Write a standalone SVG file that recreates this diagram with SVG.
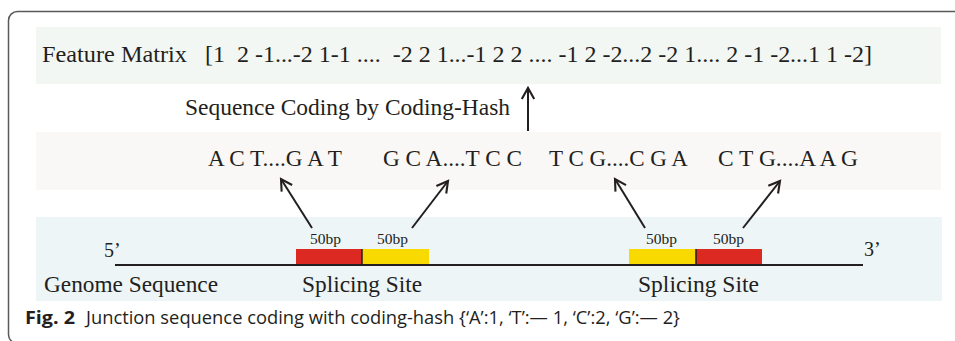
<svg xmlns="http://www.w3.org/2000/svg" width="955" height="341" viewBox="0 0 955 341">
<style>
.serif{font-family:"Liberation Serif","Times New Roman",serif;fill:#231f20}
.big{font-size:23.4px}
.small{font-size:14px}
.cap{font-family:"Open Sans","Noto Sans","Liberation Sans",sans-serif;fill:#231f20;font-size:17.5px}
.ln{stroke:#231f20;stroke-width:2;fill:none}
</style>
<defs>
<marker id="ah" markerUnits="userSpaceOnUse" markerWidth="18" markerHeight="18" refX="12" refY="8" orient="auto">
<path d="M1,1.8 L12,8 L1,14.2" fill="none" stroke="#231f20" stroke-width="2.1"/>
</marker>
</defs>
<rect x="0" y="0" width="955" height="341" fill="#ffffff"/>
<rect x="8.5" y="11.5" width="1000" height="332" rx="9" fill="none" stroke="#5a5a5a" stroke-width="1.5"/>
<g id="feature-matrix">
<rect x="36" y="27" width="905" height="57" fill="#f3f7f3"/>
<text class="serif big" x="42" y="62" textLength="145" lengthAdjust="spacingAndGlyphs">Feature Matrix</text>
<text class="serif big" x="205" y="62" xml:space="preserve" textLength="667" lengthAdjust="spacingAndGlyphs">[1  2 -1...-2 1-1 ....  -2 2 1...-1 2 2 .... -1 2 -2...2 -2 1.... 2 -1 -2...1 1 -2]</text>
</g>
<g id="coding-label">
<text class="serif big" x="185" y="115" textLength="325" lengthAdjust="spacingAndGlyphs">Sequence Coding by Coding-Hash</text>
</g>
<g id="sequences">
<rect x="36" y="132" width="905" height="58" fill="#faf8f6"/>
<text class="serif big" x="208" y="165.5" textLength="134" lengthAdjust="spacingAndGlyphs">A C T....G A T</text>
<text class="serif big" x="383" y="165.5" textLength="139" lengthAdjust="spacingAndGlyphs">G C A....T C C</text>
<text class="serif big" x="549" y="165.5" textLength="139" lengthAdjust="spacingAndGlyphs">T C G....C G A</text>
<text class="serif big" x="718" y="165.5" textLength="140" lengthAdjust="spacingAndGlyphs">C T G....A A G</text>
</g>
<g id="genome">
<rect x="36" y="217" width="906" height="84" fill="#eef5f7"/>
<line x1="115" y1="265" x2="863" y2="265" stroke="#231f20" stroke-width="2.2"/>
<text class="serif" style="font-size:20px" x="104" y="257">5’</text>
<text class="serif" style="font-size:20px" x="864" y="256">3’</text>
<text class="serif big" x="44" y="292" textLength="174" lengthAdjust="spacingAndGlyphs">Genome Sequence</text>
</g>
<g id="splice-site-1">
<rect x="296" y="249" width="66" height="15" fill="#dc2922"/>
<rect x="362" y="249" width="67" height="15" fill="#f8d900"/>
<line x1="362" y1="249" x2="362" y2="265" stroke="#231f20" stroke-width="1.5"/>
<text class="serif small" x="310" y="244" textLength="31" lengthAdjust="spacingAndGlyphs">50bp</text>
<text class="serif small" x="377" y="244" textLength="31" lengthAdjust="spacingAndGlyphs">50bp</text>
<text class="serif big" x="302" y="292" textLength="120" lengthAdjust="spacingAndGlyphs">Splicing Site</text>
</g>
<g id="splice-site-2">
<rect x="629" y="249" width="67" height="15" fill="#f8d900"/>
<rect x="696" y="249" width="66" height="15" fill="#dc2922"/>
<line x1="696" y1="249" x2="696" y2="265" stroke="#231f20" stroke-width="1.5"/>
<text class="serif small" x="646" y="244" textLength="31" lengthAdjust="spacingAndGlyphs">50bp</text>
<text class="serif small" x="713" y="244" textLength="31" lengthAdjust="spacingAndGlyphs">50bp</text>
<text class="serif big" x="638" y="292" textLength="121" lengthAdjust="spacingAndGlyphs">Splicing Site</text>
</g>
<g id="connectors">
<line class="ln" x1="528" y1="131" x2="528" y2="88" marker-end="url(#ah)"/>
<line class="ln" x1="312" y1="228" x2="281" y2="179" marker-end="url(#ah)"/>
<line class="ln" x1="412" y1="228" x2="448" y2="181" marker-end="url(#ah)"/>
<line class="ln" x1="645" y1="228" x2="615" y2="179" marker-end="url(#ah)"/>
<line class="ln" x1="743" y1="228" x2="780" y2="181" marker-end="url(#ah)"/>
</g>
<g id="caption">
<text class="cap" x="25" y="324" font-weight="bold" textLength="50" lengthAdjust="spacingAndGlyphs">Fig. 2</text>
<text class="cap" x="86" y="324" textLength="594" lengthAdjust="spacingAndGlyphs">Junction sequence coding with coding-hash {‘A’:1, ‘T’:— 1, ‘C’:2, ‘G’:— 2}</text>
</g>
</svg>
